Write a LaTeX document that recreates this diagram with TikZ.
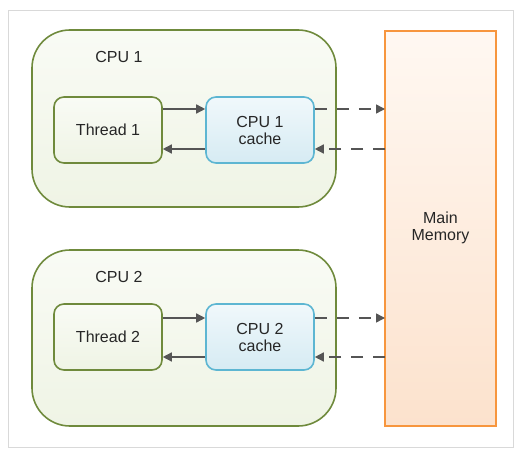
\documentclass[tikz,border=0pt]{standalone}
\usepackage{fontspec}
\setmainfont{Liberation Sans}
\usetikzlibrary{arrows.meta}
\definecolor{cpuline}{HTML}{6F8A3C}
\definecolor{cputop}{HTML}{F9FBF5}
\definecolor{cpubot}{HTML}{EFF4E5}
\definecolor{cacheline}{HTML}{5DB6D2}
\definecolor{cachetop}{HTML}{F0F8FB}
\definecolor{cachebot}{HTML}{D6EBF3}
\definecolor{memline}{HTML}{F7963E}
\definecolor{memtop}{HTML}{FFF8F2}
\definecolor{membot}{HTML}{FCE2CD}
\definecolor{arrowc}{HTML}{555555}
\definecolor{framec}{HTML}{D9D9D9}
\tikzset{
  x=1pt, y=-1pt,
  cpubox/.style={draw=cpuline, line width=1.6pt, rounded corners=38pt, top color=cputop, bottom color=cpubot},
  threadbox/.style={draw=cpuline, line width=1.6pt, rounded corners=10pt, top color=cputop, bottom color=cpubot, minimum width=108pt, minimum height=66pt, inner sep=0pt},
  cachebox/.style={draw=cacheline, line width=1.6pt, rounded corners=10pt, top color=cachetop, bottom color=cachebot, minimum width=108pt, minimum height=66pt, inner sep=0pt, align=center},
  membox/.style={draw=memline, line width=1.6pt, top color=memtop, bottom color=membot},
  lbl/.style={font=\fontsize{16pt}{17pt}\selectfont, text=black!85, align=center},
  solidarrow/.style={draw=arrowc, line width=1.5pt, -{Triangle[length=9pt,width=9pt]}},
  dasharrow/.style={draw=arrowc, line width=1.5pt, dash pattern=on 12pt off 10pt, -{Triangle[length=9pt,width=9pt]}},
}
\begin{document}
\begin{tikzpicture}
\useasboundingbox (0,0) rectangle (532,457);
\draw[framec, line width=0.8pt] (8.5,10.5) rectangle (513,447);
% CPU containers
\path[cpubox] (32,30) rectangle (336,207);
\path[cpubox] (32,250) rectangle (336,426);
\node[lbl] (cpu1lbl) at (119,57) {CPU 1};
\node[lbl] (cpu2lbl) at (119,277) {CPU 2};
% memory
\path[membox] (385,31) rectangle (496,426);
\node[lbl] (mem) at (440.5,228) {Main\\Memory};
\coordinate (memL) at (385,228);
% CPU1 internals
\node[threadbox, lbl] (t1) at (108,130) {Thread 1};
\node[cachebox, lbl] (c1) at (260,130) {CPU 1\\cache};
\draw[solidarrow] ([yshift=21pt]t1.east) -- ([yshift=21pt]c1.west);
\draw[solidarrow] ([yshift=-19pt]c1.west) -- ([yshift=-19pt]t1.east);
\draw[dasharrow] ([yshift=21pt]c1.east) -- ([yshift=21pt]c1.east -| memL);
\draw[dasharrow] ([yshift=-19pt]c1.east -| memL) -- ([yshift=-19pt]c1.east);
% CPU2 internals
\node[threadbox, lbl] (t2) at (108,337) {Thread 2};
\node[cachebox, lbl] (c2) at (260,337) {CPU 2\\cache};
\draw[solidarrow] ([yshift=19pt]t2.east) -- ([yshift=19pt]c2.west);
\draw[solidarrow] ([yshift=-20pt]c2.west) -- ([yshift=-20pt]t2.east);
\draw[dasharrow] ([yshift=19pt]c2.east) -- ([yshift=19pt]c2.east -| memL);
\draw[dasharrow] ([yshift=-20pt]c2.east -| memL) -- ([yshift=-20pt]c2.east);
\end{tikzpicture}
\end{document}
